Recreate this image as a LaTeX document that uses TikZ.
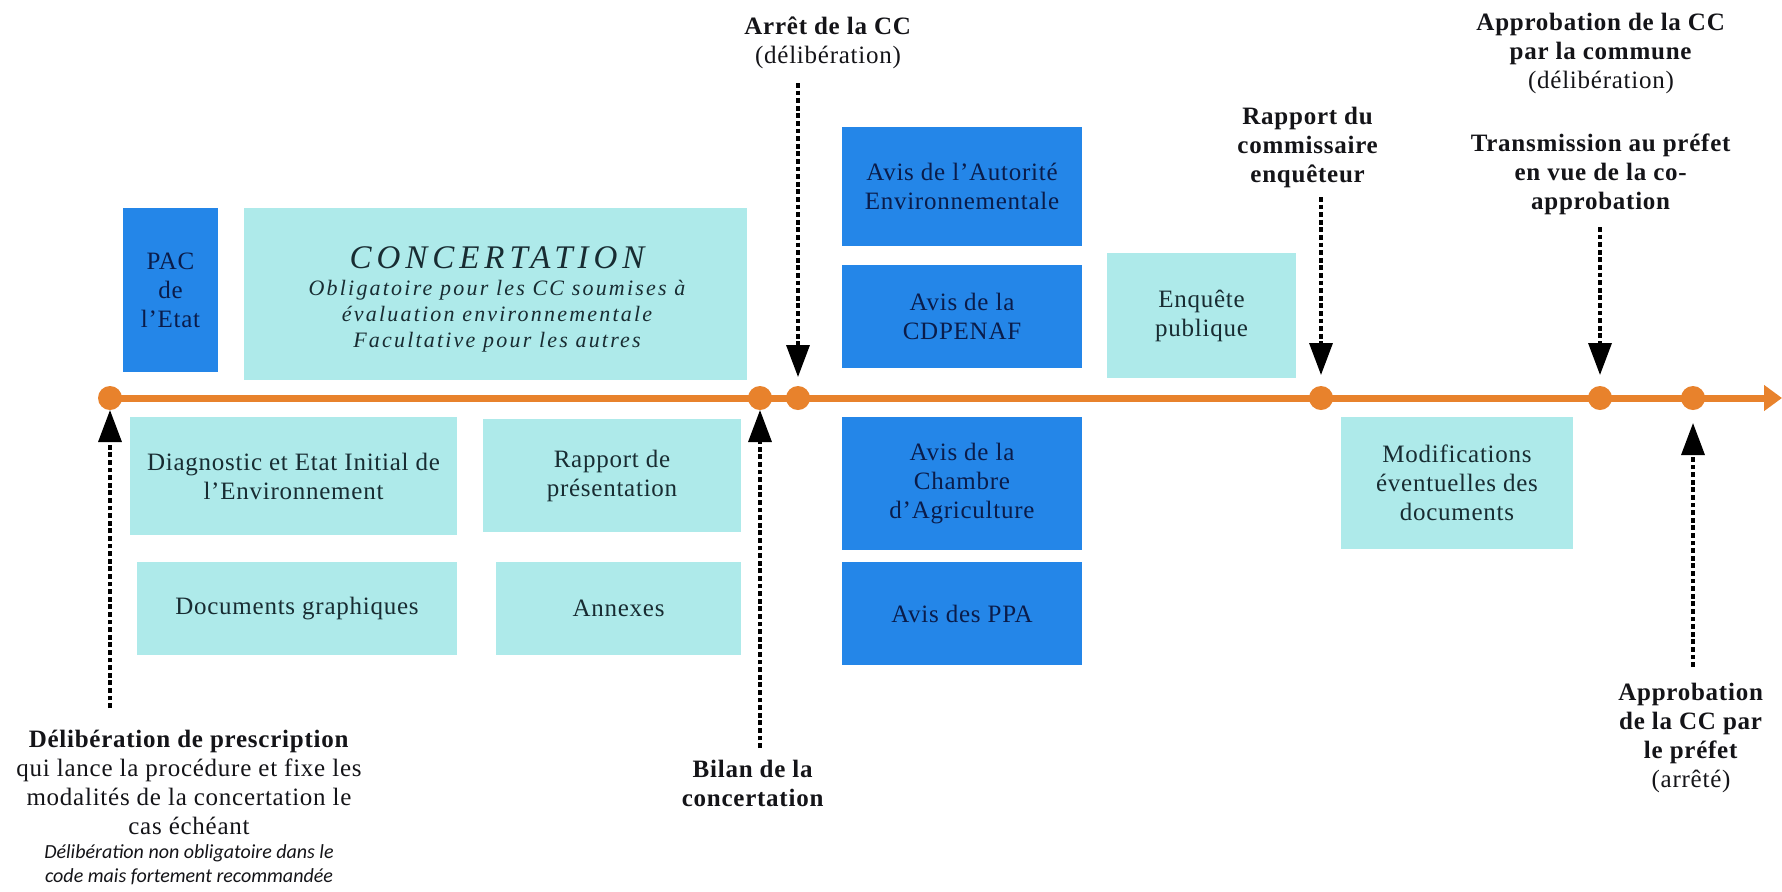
\documentclass[tikz,border=0pt]{standalone}
\usepackage{fontspec}
\setmainfont{Liberation Serif}[LetterSpace=3]
\newfontfamily\titlefont{Liberation Serif}[LetterSpace=15]
\newfontfamily\subtfont{Liberation Serif}[LetterSpace=10]
\newfontfamily\notefont{Carlito}
\usetikzlibrary{arrows.meta}

\definecolor{boxcyan}{RGB}{174,234,234}
\definecolor{boxblue}{RGB}{36,134,232}
\definecolor{lineorange}{RGB}{232,130,44}
\definecolor{cyantext}{RGB}{24,44,50}
\definecolor{bluetext}{RGB}{10,28,74}
\definecolor{labeltext}{RGB}{20,20,24}

\tikzset{
  every node/.style={inner sep=0pt, outer sep=0pt},
  stagebox/.style={fill=boxcyan, text=cyantext, align=center,
    font=\fontsize{12.5}{14.5}\selectfont},
  avisbox/.style={fill=boxblue, text=bluetext, align=center,
    font=\fontsize{12.5}{14.5}\selectfont},
  milestone/.style={circle, fill=lineorange, minimum size=12pt},
  timeline/.style={draw=lineorange, line width=3.5pt,
    -{Triangle[length=9pt,width=12.5pt]}},
  eventarrow/.style={draw=black, line width=1.7pt, dash pattern=on 2.4pt off 1.4pt,
    -{Triangle[length=16pt,width=11.5pt]}},
  eventlabel/.style={align=center, anchor=north, text=labeltext,
    font=\fontsize{12.5}{14.5}\selectfont, execute at begin node=\strut},
}

\begin{document}
\begin{tikzpicture}[x=0.5pt, y=-0.5pt]
\fill[white] (0,0) rectangle (1782,891);
\useasboundingbox (0,0) rectangle (1782,891);

% --- phases before the approval of the CC ---
\node[avisbox, minimum width=47.5pt, minimum height=82pt] (pac) at (170.5,290) {PAC\\de\\l’Etat};
\node[stagebox, minimum width=251.5pt, minimum height=86pt] (conc) at (495.5,294) {};
\node[anchor=north, text=cyantext, font=\titlefont\itshape\fontsize{16.5}{20}\selectfont,
  execute at begin node=\strut] (conctitle) at (497,240) {CONCERTATION};
\node[anchor=north, align=center, text=cyantext, font=\subtfont\itshape\fontsize{11}{13}\selectfont,
  execute at begin node=\strut] (concnote) at (497,280)
  {Obligatoire pour les CC soumises à\\évaluation environnementale\\Facultative pour les autres};

\node[stagebox, minimum width=163.5pt, minimum height=59pt] (diag) at (293.5,476)
  {Diagnostic et Etat Initial de\\l’Environnement};
\node[stagebox, minimum width=160pt, minimum height=46.5pt] (docs) at (297,608.5)
  {Documents graphiques};
\node[stagebox, minimum width=129pt, minimum height=56.5pt] (rapp) at (612,475.5)
  {Rapport de\\présentation};
\node[stagebox, minimum width=122.5pt, minimum height=46.5pt] (annx) at (618.5,608.5)
  {Annexes};

% --- consultations ---
\node[avisbox, minimum width=120pt, minimum height=59.5pt] (ae) at (962,186.5)
  {Avis de l’Autorité\\Environnementale};
\node[avisbox, minimum width=120pt, minimum height=51.5pt] (cdpenaf) at (962,316.5)
  {Avis de la\\CDPENAF};
\node[avisbox, minimum width=120pt, minimum height=66.5pt] (chambre) at (962,483.5)
  {Avis de la\\Chambre\\d’Agriculture};
\node[avisbox, minimum width=120pt, minimum height=51.5pt] (ppa) at (962,613.5)
  {Avis des PPA};

\node[stagebox, minimum width=94.5pt, minimum height=62.5pt] (enquete) at (1201.5,315.5)
  {Enquête\\publique};
\node[stagebox, minimum width=116pt, minimum height=66pt] (modif) at (1457,483)
  {Modifications\\éventuelles des\\documents};

% --- timeline and milestones ---
\node[milestone] (d1) at (110,398) {};
\node[milestone] (d2) at (760,398) {};
\node[milestone] (d3) at (798,398) {};
\node[milestone] (d4) at (1321,398) {};
\node[milestone] (d5) at (1600,398) {};
\node[milestone] (d6) at (1693,398) {};
\coordinate (tlend) at (1782,398);
\draw[timeline] (d1.center) -- (tlend);

% --- milestone labels ---
\node[eventlabel] (lDelib) at (189,730)
  {\textbf{Délibération de prescription}\\qui lance la procédure et fixe les\\modalités de la concertation le\\cas échéant};
\node[anchor=north, align=center, text=labeltext, font=\notefont\itshape\fontsize{10}{12}\selectfont,
  execute at begin node=\strut] (lDelibNote) at (189,845)
  {Délibération non obligatoire dans le\\code mais fortement recommandée};
\node[eventlabel] (lBilan) at (753,760) {\textbf{Bilan de la}\\\textbf{concertation}};
\node[eventlabel] (lArret) at (828,17) {\textbf{Arrêt de la CC}\\(délibération)};
\node[eventlabel] (lRapport) at (1308,107) {\textbf{Rapport du}\\\textbf{commissaire}\\\textbf{enquêteur}};
\node[eventlabel] (lCommune) at (1601,13)
  {\textbf{Approbation de la CC}\\\textbf{par la commune}\\(délibération)};
\node[eventlabel] (lTransm) at (1601,134)
  {\textbf{Transmission au préfet}\\\textbf{en vue de la co-}\\\textbf{approbation}};
\node[eventlabel] (lPrefet) at (1691,683)
  {\textbf{Approbation}\\\textbf{de la CC par}\\\textbf{le préfet}\\(arrêté)};

% --- dashed event arrows ---
\coordinate (sDelib) at (110,708);
\coordinate (sBilan) at (760,748);
\coordinate (sArret) at (798,83);
\coordinate (sRapport) at (1321,197);
\coordinate (sTransm) at (1600,227);
\coordinate (sPrefet) at (1693,667);
\draw[eventarrow] (sDelib) -- (d1);
\draw[eventarrow] (sBilan) -- (d2);
\draw[eventarrow, shorten >=4.5pt] (sArret) -- (d3);
\draw[eventarrow, shorten >=5.5pt] (sRapport) -- (d4);
\draw[eventarrow, shorten >=5.5pt] (sTransm) -- (d5);
\draw[eventarrow, shorten >=6.5pt] (sPrefet) -- (d6);
\end{tikzpicture}
\end{document}
